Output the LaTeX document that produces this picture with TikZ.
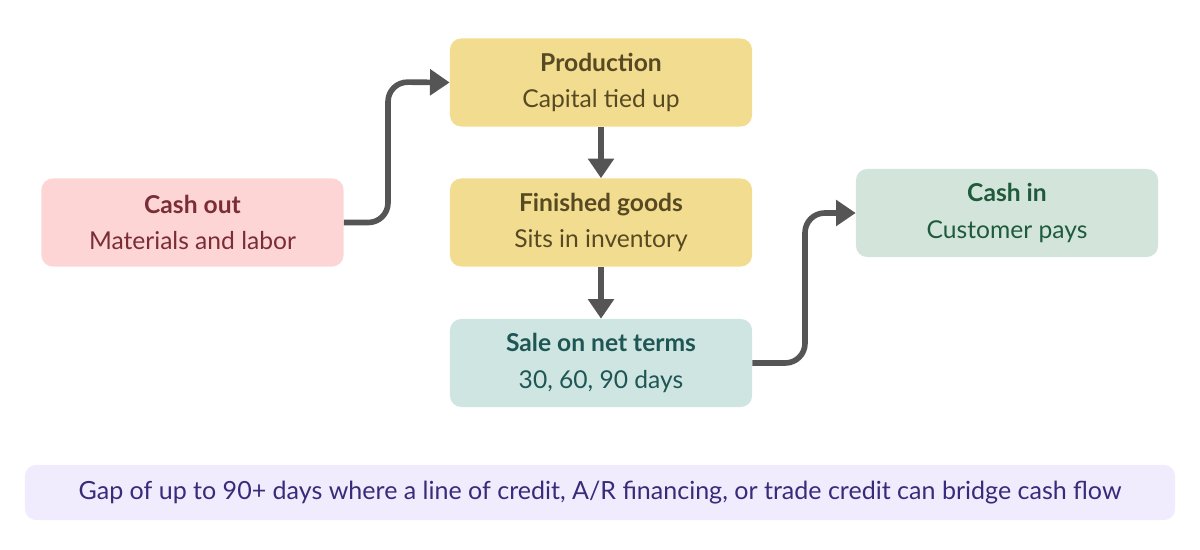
\documentclass[tikz,border=0pt]{standalone}
\usepackage{fontspec}
\setmainfont{Lato}
\usetikzlibrary{positioning,arrows.meta}
\definecolor{pinkbg}{HTML}{FDD5D5}
\definecolor{pinktx}{HTML}{7B2D35}
\definecolor{yelbg}{HTML}{F2DC8F}
\definecolor{yeltx}{HTML}{574A22}
\definecolor{tealbg}{HTML}{CFE5E1}
\definecolor{tealtx}{HTML}{1E5656}
\definecolor{grnbg}{HTML}{D3E5DA}
\definecolor{grntx}{HTML}{1F5A3C}
\definecolor{lilbg}{HTML}{F1ECFD}
\definecolor{liltx}{HTML}{3B2A7A}
\definecolor{arr}{HTML}{555555}
\begin{document}
\begin{tikzpicture}[x=0.025cm,y=-0.025cm,
  box/.style={rounded corners=8pt, minimum width=7.55cm, minimum height=2.2cm, align=center, font=\fontsize{17.5}{26}\selectfont},
  flow/.style={draw=arr, line width=4pt, rounded corners=14pt, -{Triangle[length=14pt,width=18pt]}}]
\useasboundingbox (0,0) rectangle (1200,550);
\node[box, fill=pinkbg, text=pinktx] (out) at (192.5,222.5) {\textbf{Cash out}\\Materials and labor};
\node[box, fill=yelbg, text=yeltx] (prod) at (601,82.5) {\textbf{Production}\\Capital tied up};
\node[box, fill=yelbg, text=yeltx] (fin) at (601,222.5) {\textbf{Finished goods}\\Sits in inventory};
\node[box, fill=tealbg, text=tealtx] (sale) at (601,363) {\textbf{Sale on net terms}\\30, 60, 90 days};
\node[box, fill=grnbg, text=grntx] (in) at (1007,213) {\textbf{Cash in}\\Customer pays};
\node[rounded corners=8pt, fill=lilbg, text=liltx, minimum width=28.75cm, minimum height=1.38cm, font=\fontsize{17.8}{20}\selectfont] (gap) at (600,492.5)
  {Gap of up to 90+ days where a line of credit, A/R financing, or trade credit can bridge cash flow};
\draw[flow] (out.east) -| (388,82) -- (prod.west);
\draw[flow] (prod.south) -- (fin.north);
\draw[flow] (fin.south) -- (sale.north);
\draw[flow] (sale.east) -| (805,213) -- (in.west);
\end{tikzpicture}
\end{document}
